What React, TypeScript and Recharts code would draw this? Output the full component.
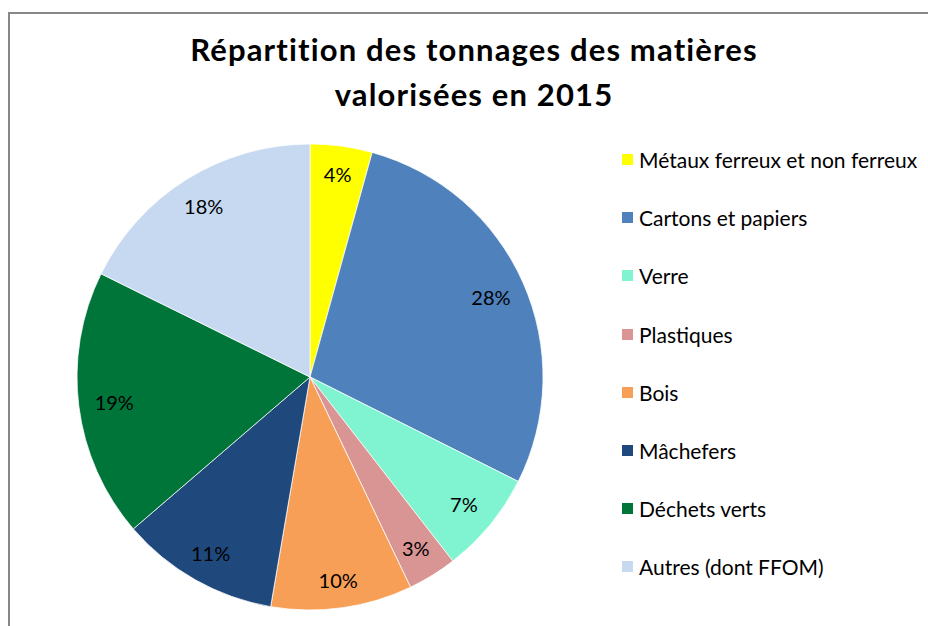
import React from 'react';
import { PieChart, Pie, Cell, Legend } from 'recharts';

// catégories et parts (%)
const categories = [
  'Métaux ferreux et non ferreux',
  'Cartons et papiers',
  'Verre',
  'Plastiques',
  'Bois',
  'Mâchefers',
  'Déchets verts',
  'Autres (dont FFOM)',
];
const shares = [4.3, 28.1, 7.1, 3.4, 9.8, 11.0, 18.6, 17.7];
const colors = ['#ffff00', '#4f81bd', '#80f3d1', '#d99594', '#f79f56', '#1f497d', '#00753a', '#c6d9f0'];
const titleLines = ['Répartition des tonnages des matières', 'valorisées en 2015'];

const data = categories.map((name, i) => ({ name, value: shares[i] }));

const FONT = 'Lato, "Open Sans", sans-serif';
const RAD = Math.PI / 180;

// étiquettes près du bord, un peu rentrées quand le texte est sur les côtés
const renderLabel = ({ cx, cy, midAngle, outerRadius, percent }: any) => {
  const cos = Math.cos(-midAngle * RAD);
  const sin = Math.sin(-midAngle * RAD);
  const r = outerRadius * 0.885 - 9 * Math.abs(cos);
  return (
    <text
      x={cx + r * cos}
      y={cy + r * sin}
      fill="#000"
      textAnchor="middle"
      dominantBaseline="central"
      fontSize={20}
      fontFamily={FONT}
    >
      {`${Math.round(percent * 100)}%`}
    </text>
  );
};

const renderLegend = () => (
  <div style={{ fontFamily: FONT }}>
    {data.map((d, i) => (
      <div key={d.name} style={{ display: 'flex', alignItems: 'center', height: 58.2 }}>
        <span style={{ width: 11, height: 11, background: colors[i], marginRight: 6, flexShrink: 0 }} />
        <span style={{ fontSize: 21, color: '#000', whiteSpace: 'nowrap' }}>{d.name}</span>
      </div>
    ))}
  </div>
);

export default function App() {
  return (
    <div style={{ position: 'absolute', left: 0, top: 0, width: 928, height: 626, overflow: 'hidden', background: '#fff' }}>
      <div
        style={{
          position: 'absolute',
          left: 8,
          top: 12,
          width: 960,
          height: 660,
          border: '2px solid #878787',
        }}
      />
      <div
        style={{
          position: 'absolute',
          left: 0,
          top: 27,
          width: 948,
          textAlign: 'center',
          fontFamily: FONT,
          fontWeight: 'bold',
          fontSize: 31,
          letterSpacing: 1.15,
          lineHeight: '45px',
          color: '#000',
        }}
      >
        {titleLines.map((t) => (
          <div key={t}>{t}</div>
        ))}
      </div>
      <PieChart
        width={928}
        height={626}
        margin={{ top: 0, right: 0, bottom: 0, left: 0 }}
        style={{ position: 'absolute', left: 0, top: 0 }}
      >
        <Pie
          data={data}
          dataKey="value"
          nameKey="name"
          cx={310}
          cy={377}
          outerRadius={233}
          startAngle={90}
          endAngle={-270}
          stroke="#ffffff"
          strokeWidth={0.75}
          label={renderLabel}
          labelLine={false}
          isAnimationActive={false}
        >
          {data.map((d, i) => (
            <Cell key={d.name} fill={colors[i]} />
          ))}
        </Pie>
        <Legend
          content={renderLegend}
          wrapperStyle={{ position: 'absolute', left: 622, top: 130.5, width: 306 }}
        />
      </PieChart>
    </div>
  );
}
